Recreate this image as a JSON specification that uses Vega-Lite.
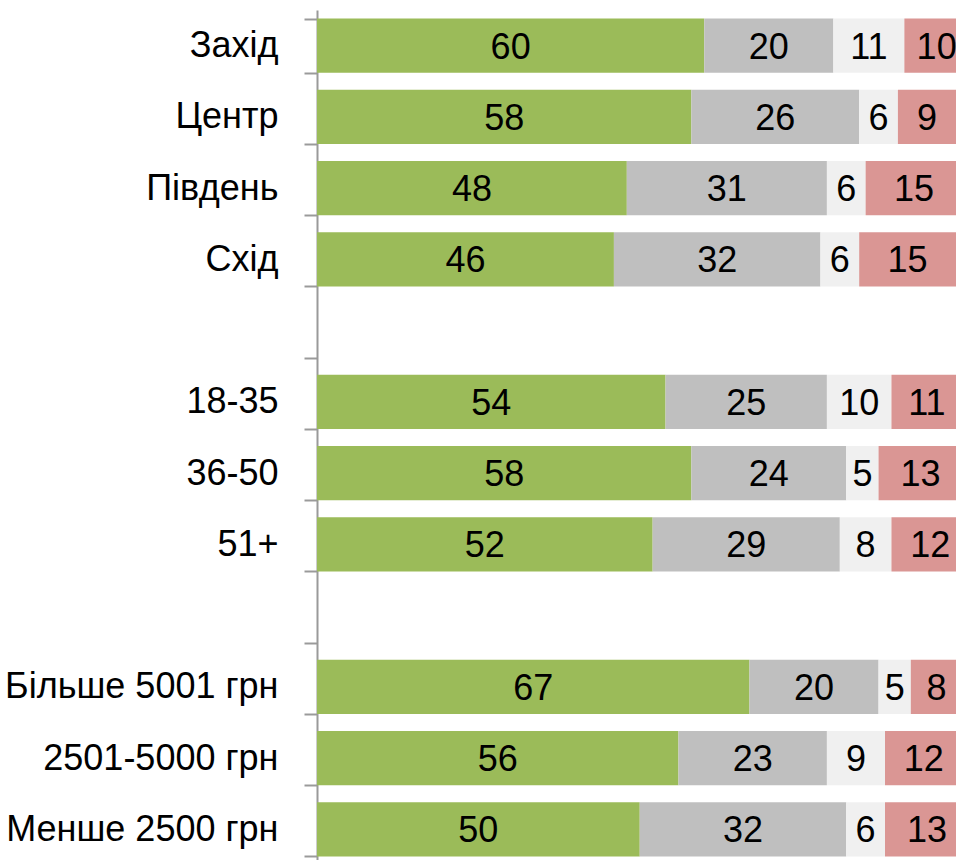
{
  "$schema": "https://vega.github.io/schema/vega-lite/v6.json",
  "autosize": {"type": "none"},
  "padding": {"left": 317, "top": 10, "right": 0, "bottom": 0},
  "width": 639,
  "height": 850,
  "background": "white",
  "config": {"view": {"stroke": null}},
  "data": {
    "values": [
      {"cat": "Захід", "k": "a", "o": 1, "v": 60},
      {"cat": "Захід", "k": "b", "o": 2, "v": 20},
      {"cat": "Захід", "k": "c", "o": 3, "v": 11},
      {"cat": "Захід", "k": "d", "o": 4, "v": 10},
      {"cat": "Центр", "k": "a", "o": 1, "v": 58},
      {"cat": "Центр", "k": "b", "o": 2, "v": 26},
      {"cat": "Центр", "k": "c", "o": 3, "v": 6},
      {"cat": "Центр", "k": "d", "o": 4, "v": 9},
      {"cat": "Південь", "k": "a", "o": 1, "v": 48},
      {"cat": "Південь", "k": "b", "o": 2, "v": 31},
      {"cat": "Південь", "k": "c", "o": 3, "v": 6},
      {"cat": "Південь", "k": "d", "o": 4, "v": 15},
      {"cat": "Схід", "k": "a", "o": 1, "v": 46},
      {"cat": "Схід", "k": "b", "o": 2, "v": 32},
      {"cat": "Схід", "k": "c", "o": 3, "v": 6},
      {"cat": "Схід", "k": "d", "o": 4, "v": 15},
      {"cat": "18-35", "k": "a", "o": 1, "v": 54},
      {"cat": "18-35", "k": "b", "o": 2, "v": 25},
      {"cat": "18-35", "k": "c", "o": 3, "v": 10},
      {"cat": "18-35", "k": "d", "o": 4, "v": 11},
      {"cat": "36-50", "k": "a", "o": 1, "v": 58},
      {"cat": "36-50", "k": "b", "o": 2, "v": 24},
      {"cat": "36-50", "k": "c", "o": 3, "v": 5},
      {"cat": "36-50", "k": "d", "o": 4, "v": 13},
      {"cat": "51+", "k": "a", "o": 1, "v": 52},
      {"cat": "51+", "k": "b", "o": 2, "v": 29},
      {"cat": "51+", "k": "c", "o": 3, "v": 8},
      {"cat": "51+", "k": "d", "o": 4, "v": 12},
      {"cat": "Більше 5001 грн", "k": "a", "o": 1, "v": 67},
      {"cat": "Більше 5001 грн", "k": "b", "o": 2, "v": 20},
      {"cat": "Більше 5001 грн", "k": "c", "o": 3, "v": 5},
      {"cat": "Більше 5001 грн", "k": "d", "o": 4, "v": 8},
      {"cat": "2501-5000 грн", "k": "a", "o": 1, "v": 56},
      {"cat": "2501-5000 грн", "k": "b", "o": 2, "v": 23},
      {"cat": "2501-5000 грн", "k": "c", "o": 3, "v": 9},
      {"cat": "2501-5000 грн", "k": "d", "o": 4, "v": 12},
      {"cat": "Менше 2500 грн", "k": "a", "o": 1, "v": 50},
      {"cat": "Менше 2500 грн", "k": "b", "o": 2, "v": 32},
      {"cat": "Менше 2500 грн", "k": "c", "o": 3, "v": 6},
      {"cat": "Менше 2500 грн", "k": "d", "o": 4, "v": 13}
    ]
  },
  "encoding": {
    "y": {
      "field": "cat",
      "type": "nominal",
      "scale": {
        "domain": ["Захід", "Центр", "Південь", "Схід", "b1", "18-35", "36-50", "51+", "b2", "Більше 5001 грн", "2501-5000 грн", "Менше 2500 грн"],
        "range": [0, 855],
        "paddingInner": 0.24,
        "paddingOuter": 0.12
      },
      "axis": {
        "title": null,
        "labelExpr": "datum.value == 'b1' || datum.value == 'b2' ? '' : datum.value",
        "labelFont": "Liberation Sans",
        "labelFontSize": 36,
        "labelColor": "#000000",
        "labelPadding": 26,
        "labelLimit": 400,
        "tickSize": 13,
        "tickBand": "extent",
        "tickColor": "#9a9a9a",
        "tickWidth": 2,
        "domainColor": "#9a9a9a",
        "domainWidth": 2,
        "grid": false
      }
    },
    "order": {"field": "o", "type": "quantitative", "sort": "ascending"}
  },
  "layer": [
    {
      "mark": {"type": "bar", "clip": true},
      "encoding": {
        "x": {
          "field": "v",
          "type": "quantitative",
          "stack": "zero",
          "scale": {"domain": [0, 99], "nice": false, "zero": true},
          "axis": null
        },
        "color": {
          "field": "k",
          "type": "nominal",
          "scale": {"domain": ["a", "b", "c", "d"], "range": ["#9BBB59", "#BFBFBF", "#F0F0F0", "#DA9694"]},
          "legend": null
        }
      }
    },
    {
      "mark": {
        "type": "text",
        "font": "Liberation Sans",
        "fontSize": 36,
        "color": "#000000",
        "align": "center",
        "baseline": "middle",
        "dy": 2,
        "clip": true
      },
      "encoding": {
        "x": {
          "field": "v",
          "type": "quantitative",
          "stack": "zero",
          "bandPosition": 0.5
        },
        "detail": {"field": "k", "type": "nominal"},
        "text": {"field": "v", "type": "quantitative"}
      }
    }
  ]
}
